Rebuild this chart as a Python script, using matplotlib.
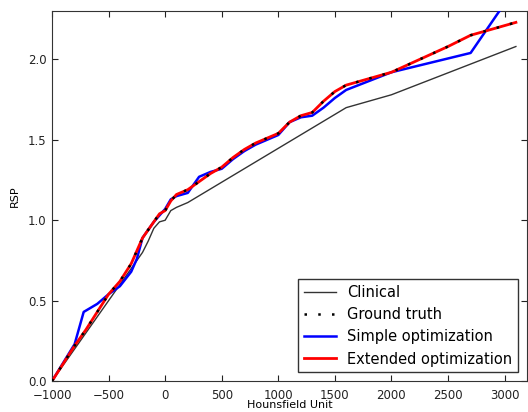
import matplotlib
matplotlib.use("Agg")
import matplotlib.pyplot as plt

# Hounsfield unit sample positions
clinical_hu = [-1000, -800, -600, -400, -300, -200, -150, -100, -50, 0, 50, 100, 200, 1600, 2000, 3100]
clinical_rsp = [0.00, 0.20, 0.40, 0.60, 0.70, 0.80, 0.87, 0.95, 0.99, 1.00, 1.06, 1.08, 1.11, 1.70, 1.78, 2.08]

truth_hu = [-1000, -800, -700, -600, -500, -400, -300, -200, -100, -50, 0, 50, 100, 200, 300, 400, 500,
            600, 700, 800, 900, 1000, 1100, 1200, 1300, 1400, 1500, 1600, 1800, 2000, 2500, 2700, 3000, 3100]
truth_rsp = [0.00, 0.22, 0.32, 0.43, 0.54, 0.62, 0.73, 0.89, 0.99, 1.04, 1.06, 1.12, 1.16, 1.19, 1.24, 1.29, 1.33,
             1.39, 1.44, 1.48, 1.51, 1.54, 1.61, 1.65, 1.67, 1.74, 1.80, 1.84, 1.88, 1.92, 2.08, 2.15, 2.21, 2.23]

simple_hu = [-1000, -800, -720, -600, -500, -400, -300, -250, -200, -100, 0, 50, 100, 200, 300, 400, 500,
             600, 700, 800, 900, 1000, 1100, 1200, 1300, 1400, 1500, 1600, 2000, 2700, 3100]
simple_rsp = [0.00, 0.23, 0.43, 0.48, 0.54, 0.59, 0.68, 0.76, 0.89, 0.99, 1.07, 1.13, 1.15, 1.17, 1.27, 1.30, 1.32,
              1.38, 1.43, 1.47, 1.50, 1.53, 1.61, 1.64, 1.65, 1.70, 1.76, 1.81, 1.92, 2.04, 2.45]

extended_hu = truth_hu
extended_rsp = [0.00, 0.22, 0.32, 0.43, 0.54, 0.62, 0.73, 0.89, 0.99, 1.04, 1.06, 1.12, 1.16, 1.19, 1.24, 1.29, 1.33,
                1.39, 1.44, 1.48, 1.51, 1.54, 1.61, 1.65, 1.67, 1.74, 1.80, 1.84, 1.88, 1.92, 2.08, 2.15, 2.21, 2.23]

xticks = [-1000, -500, 0, 500, 1000, 1500, 2000, 2500, 3000]
yticks = [0.0, 0.5, 1.0, 1.5, 2.0]

fig = plt.figure(figsize=(5.28, 4.12), dpi=100)
ax = fig.add_axes([0.0985, 0.075, 0.9, 0.898])

ax.plot(clinical_hu, clinical_rsp, color="#333333", lw=1.0, label="Clinical", zorder=2)
ax.plot(truth_hu, truth_rsp, color="black", lw=1.8, ls=(0, (1, 4.5)), label="Ground truth", zorder=5)
ax.plot(simple_hu, simple_rsp, color="blue", lw=1.8, label="Simple optimization", zorder=3)
ax.plot(extended_hu, extended_rsp, color="red", lw=2.0, label="Extended optimization", zorder=4)

ax.set_xlim(-1000, 3200)
ax.set_ylim(0, 2.3)
ax.set_xticks(xticks)
ax.set_yticks(yticks)
ax.set_xticklabels(["\u22121000", "\u2212500", "0", "500", "1000", "1500", "2000", "2500", "3000"])
ax.set_yticklabels(["0.0", "0.5", "1.0", "1.5", "2.0"])
ax.tick_params(direction="in", top=True, right=True, length=4, labelsize=8.5, colors="#222222")
ax.tick_params(axis="x", pad=5.5)
ax.tick_params(axis="y", pad=4)
for s in ax.spines.values():
    s.set_color("#333333")
ax.set_xlabel("Hounsfield Unit", fontsize=8, labelpad=-1)
ax.set_ylabel("RSP", fontsize=8, labelpad=6)

leg = ax.legend(loc="lower right", fontsize=10.5, frameon=True, fancybox=False,
                edgecolor="black", borderaxespad=0.6, handlelength=2.2)
leg.get_frame().set_linewidth(1.0)

fig.savefig("out.png", dpi=100)
